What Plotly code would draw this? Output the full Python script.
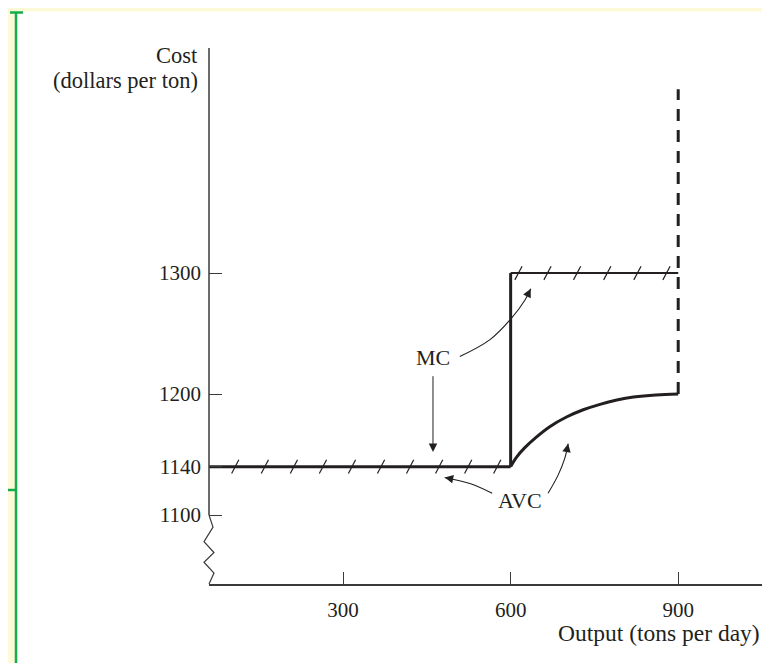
import plotly.graph_objects as go

# --- data -------------------------------------------------------------
# marginal cost (MC): flat at 1140, jumps to 1300 at 600 t/day
mc_x = [60, 600, 600, 900]
mc_y = [1140, 1140, 1300, 1300]

# average variable cost (AVC): flat at 1140, then rising towards 1200
avc_x = [60, 600, 610, 625, 645, 670, 700, 730, 760, 790, 820, 860, 900]
avc_y = [1140, 1140, 1147.5, 1155.5, 1164, 1173, 1181, 1187, 1191.5, 1195,
         1197.5, 1199.3, 1200]

# capacity limit at 900 t/day
cap_x = [900, 900]
cap_y = [1200, 1452]

# hatch marks on the MC segments
hatch_low_x = [107, 160, 212, 264, 316, 368, 420, 472, 524, 576]
hatch_high_x = [614, 666, 719, 773, 827, 879]

x_ticks = [300, 600, 900]
y_ticks = [1100, 1140, 1200, 1300]

X_RANGE = [60, 1050]
Y_RANGE = [1043, 1486]

FONT = "Liberation Serif"
INK = "#231f20"
AXIS = "#3a3a3a"
YELLOW = "#fef9d6"
GREEN = "#14ad4b"


def py_paper(yv):
    # data y -> paper y (for shapes that must not be clipped)
    return (yv - Y_RANGE[0]) / (Y_RANGE[1] - Y_RANGE[0])


fig = go.Figure()

# shared flat part (MC = AVC = 1140)
fig.add_trace(go.Scatter(x=mc_x[:2], y=mc_y[:2], mode="lines",
                         line=dict(color=INK, width=3), hoverinfo="skip"))
# MC jump and upper step
fig.add_trace(go.Scatter(x=mc_x[1:3], y=mc_y[1:3], mode="lines",
                         line=dict(color=INK, width=3), hoverinfo="skip"))
fig.add_trace(go.Scatter(x=mc_x[2:], y=mc_y[2:], mode="lines",
                         line=dict(color=INK, width=2), hoverinfo="skip"))
# AVC curve
fig.add_trace(go.Scatter(x=avc_x[1:], y=avc_y[1:], mode="lines",
                         line=dict(color=INK, width=3, shape="spline", smoothing=1.0),
                         hoverinfo="skip"))
# capacity (dashed)
fig.add_trace(go.Scatter(x=cap_x, y=cap_y, mode="lines",
                         line=dict(color=INK, width=3, dash="12px,9px"), hoverinfo="skip"))

# hatch marks
for hx, hy in [(hatch_low_x, mc_y[0]), (hatch_high_x, mc_y[2])]:
    fig.add_trace(go.Scatter(
        x=hx, y=[hy] * len(hx), mode="markers", hoverinfo="skip",
        marker=dict(symbol="line-ns", size=11, angle=28,
                    line=dict(color=INK, width=1.2)),
    ))

# curved arrow shafts (MC -> upper step, AVC -> flat part, AVC -> curve)
arrow_paths = [
    ([509, 563, 602, 626, 636], [1231, 1245, 1263, 1278, 1287]),
    ([567, 527, 482], [1118, 1126, 1131]),
    ([667, 685, 697, 703], [1118, 1133, 1147, 1159]),
]
for ax_, ay_ in arrow_paths:
    fig.add_trace(go.Scatter(x=ax_, y=ay_, mode="lines", hoverinfo="skip",
                             line=dict(color=INK, width=1.1, shape="spline")))

annotations = []
# arrowheads for the curved shafts
for (ax_, ay_), (dx, dy) in zip(arrow_paths, [(-4.5, 9), (10, 2), (-2, 10)]):
    annotations.append(dict(x=ax_[-1], y=ay_[-1], xref="x", yref="y", text="",
                            showarrow=True, arrowhead=2, arrowsize=1.7,
                            arrowwidth=1.0, arrowcolor=INK, ax=dx, ay=dy))
# straight MC arrow
annotations.append(dict(x=461, y=1152, xref="x", yref="y", text="",
                        showarrow=True, arrowhead=2, arrowsize=1.7,
                        arrowwidth=1.0, arrowcolor=INK,
                        ax=461, ay=1216, axref="x", ayref="y"))

labels = [
    ("MC", 461, 1230),
    ("AVC", 617, 1112),
]
for txt, lx, ly in labels:
    annotations.append(dict(x=lx, y=ly, xref="x", yref="y", text=txt,
                            showarrow=False, xanchor="center",
                            font=dict(family=FONT, size=22, color=INK)))

# axis titles
TITLE_FONT = dict(family=FONT, size=22.5, color=INK)
annotations += [
    dict(x=-0.016, y=(584 - 55) / 536, xref="paper", yref="paper", text="Cost",
         showarrow=False, xanchor="right", yanchor="middle", font=TITLE_FONT),
    dict(x=-0.016, y=(584 - 80.5) / 536, xref="paper", yref="paper",
         text="(dollars per ton)", showarrow=False, xanchor="right", yanchor="middle",
         font=TITLE_FONT),
    dict(x=1.0, y=(584 - 633) / 536, xref="paper", yref="paper",
         text="Output (tons per day)", showarrow=False, xanchor="right",
         yanchor="middle", font=dict(family=FONT, size=23.5, color=INK)),
]

# broken-axis zigzag below 1100 (pixel offsets from the axis)
zig_dx = [0, 4, -5, 5, -5, 5, 0]
zig_y = [1100, 1090, 1078, 1069, 1061, 1052, 1043]
zig_path = "M" + " L".join(
    f"{dx / 553:.5f},{py_paper(yv):.5f}" for dx, yv in zip(zig_dx, zig_y))

shapes = [
    # page frame: yellow margin and green rule
    dict(type="rect", xref="paper", yref="paper", x0=-0.40, x1=-0.350,
         y0=-0.2, y1=1.1, fillcolor=YELLOW, line_width=0, layer="below"),
    dict(type="rect", xref="paper", yref="paper", x0=-0.40, x1=1.02,
         y0=(584 - 11.5) / 536, y1=1.1, fillcolor=YELLOW, line_width=0, layer="below"),
    dict(type="line", xref="paper", yref="paper", x0=(16 - 209) / 553, x1=(16 - 209) / 553,
         y0=-0.2, y1=(584 - 12.5) / 536, line=dict(color=GREEN, width=2.5)),
    dict(type="line", xref="paper", yref="paper", x0=(10 - 209) / 553, x1=(23 - 209) / 553,
         y0=(584 - 12.5) / 536, y1=(584 - 12.5) / 536, line=dict(color=GREEN, width=2.5)),
    dict(type="line", xref="paper", yref="paper", x0=-0.40, x1=(16 - 209) / 553,
         y0=(584 - 490) / 536, y1=(584 - 490) / 536, line=dict(color=GREEN, width=2.5)),
    # vertical axis, broken below 1100
    dict(type="line", xref="paper", yref="paper", x0=0, x1=0,
         y0=py_paper(1100), y1=1, line=dict(color=AXIS, width=1.5)),
    dict(type="path", xref="paper", yref="paper", path=zig_path,
         line=dict(color=AXIS, width=1.2)),
]

# the page body adds an 8px offset, so the figure is 8px smaller each way
fig.update_layout(
    width=762, height=655,
    margin=dict(l=201, r=8, t=40, b=79),
    paper_bgcolor="white", plot_bgcolor="white",
    showlegend=False,
    annotations=annotations,
    shapes=shapes,
    font=dict(family=FONT, size=21, color=INK),
)
fig.update_xaxes(range=X_RANGE, showgrid=False, zeroline=False,
                 showline=True, linecolor=AXIS, linewidth=1.5,
                 tickmode="array", tickvals=x_ticks, ticks="inside",
                 ticklen=12, tickwidth=1.3, tickcolor=AXIS,
                 ticklabelstandoff=6, tickfont=dict(family=FONT, size=21, color=INK))
fig.update_yaxes(range=Y_RANGE, showgrid=False, zeroline=False,
                 showline=False,
                 tickmode="array", tickvals=y_ticks, ticks="inside",
                 ticklen=13, tickwidth=1.3, tickcolor=AXIS,
                 ticklabelstandoff=7, tickfont=dict(family=FONT, size=21, color=INK))

fig.write_html("out.html")
